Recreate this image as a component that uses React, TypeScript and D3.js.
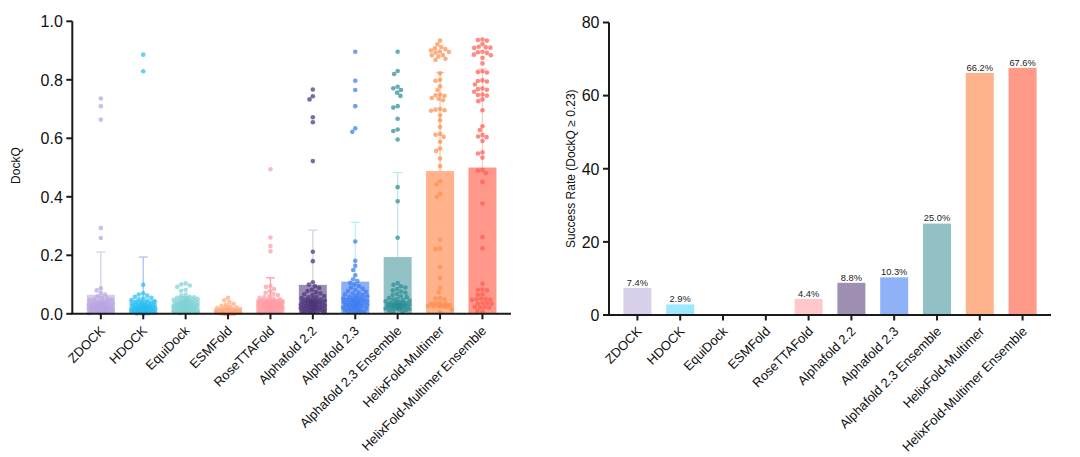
import React, { useMemo } from 'react';
import * as d3 from 'd3';

// ---------- DATA ----------
const categories = [
  'ZDOCK', 'HDOCK', 'EquiDock', 'ESMFold', 'RoseTTAFold',
  'Alphafold 2.2', 'Alphafold 2.3', 'Alphafold 2.3 Ensemble',
  'HelixFold-Multimer', 'HelixFold-Multimer Ensemble',
];

const zdockDockQ = [0.736, 0.710, 0.664, 0.293, 0.259, 0.087, 0.080, 0.071, 0.066, 0.060, 0.055, 0.052, 0.050, 0.048, 0.046, 0.044, 0.043, 0.041, 0.040, 0.039, 0.038, 0.036, 0.035, 0.034, 0.033, 0.032, 0.031, 0.030, 0.029, 0.028, 0.028, 0.027, 0.026, 0.025, 0.025, 0.024, 0.023, 0.022, 0.021, 0.020, 0.020, 0.019, 0.018, 0.017, 0.016, 0.015, 0.015, 0.014, 0.013, 0.012, 0.011, 0.010, 0.010, 0.009, 0.008, 0.008, 0.007, 0.006, 0.006, 0.005, 0.004, 0.004, 0.003, 0.002, 0.030, 0.022, 0.018, 0.012];
const hdockDockQ = [0.886, 0.829, 0.099, 0.070, 0.066, 0.062, 0.058, 0.055, 0.052, 0.050, 0.047, 0.045, 0.043, 0.041, 0.040, 0.038, 0.036, 0.035, 0.033, 0.032, 0.031, 0.030, 0.029, 0.028, 0.027, 0.026, 0.025, 0.024, 0.023, 0.022, 0.022, 0.021, 0.020, 0.019, 0.019, 0.018, 0.017, 0.016, 0.016, 0.015, 0.014, 0.014, 0.013, 0.012, 0.012, 0.011, 0.010, 0.010, 0.009, 0.009, 0.008, 0.008, 0.007, 0.007, 0.006, 0.006, 0.005, 0.005, 0.004, 0.004, 0.003, 0.003, 0.002, 0.002, 0.001, 0.001, 0.020, 0.015];
const equidockDockQ = [0.104, 0.100, 0.097, 0.092, 0.082, 0.079, 0.066, 0.062, 0.058, 0.056, 0.055, 0.054, 0.053, 0.052, 0.051, 0.050, 0.048, 0.047, 0.046, 0.045, 0.044, 0.043, 0.042, 0.041, 0.040, 0.040, 0.039, 0.038, 0.037, 0.036, 0.036, 0.035, 0.034, 0.033, 0.033, 0.032, 0.031, 0.030, 0.030, 0.029, 0.028, 0.027, 0.026, 0.025, 0.025, 0.024, 0.023, 0.022, 0.021, 0.020, 0.019, 0.018, 0.017, 0.016, 0.015, 0.014, 0.013, 0.012, 0.011, 0.010, 0.009, 0.008, 0.007, 0.006, 0.005, 0.004, 0.003, 0.002];
const esmfoldDockQ = [0.055, 0.046, 0.040, 0.034, 0.030, 0.027, 0.024, 0.022, 0.020, 0.019, 0.018, 0.017, 0.016, 0.015, 0.014, 0.013, 0.012, 0.012, 0.011, 0.011, 0.010, 0.010, 0.010, 0.009, 0.009, 0.009, 0.008, 0.008, 0.008, 0.008, 0.007, 0.007, 0.007, 0.007, 0.006, 0.006, 0.006, 0.006, 0.006, 0.005, 0.005, 0.005, 0.005, 0.005, 0.004, 0.004, 0.004, 0.004, 0.004, 0.003, 0.003, 0.003, 0.003, 0.003, 0.002, 0.002, 0.002, 0.002, 0.002, 0.001, 0.001, 0.001, 0.001, 0.001, 0.001, 0.000, 0.000, 0.000];
const rosettafoldDockQ = [0.494, 0.261, 0.232, 0.214, 0.095, 0.092, 0.085, 0.078, 0.072, 0.068, 0.064, 0.060, 0.057, 0.055, 0.052, 0.050, 0.048, 0.046, 0.045, 0.044, 0.042, 0.041, 0.040, 0.039, 0.038, 0.037, 0.036, 0.035, 0.034, 0.033, 0.032, 0.031, 0.030, 0.030, 0.029, 0.028, 0.027, 0.026, 0.025, 0.024, 0.023, 0.022, 0.021, 0.020, 0.019, 0.018, 0.017, 0.016, 0.015, 0.014, 0.013, 0.012, 0.011, 0.010, 0.009, 0.008, 0.007, 0.006, 0.005, 0.004, 0.003, 0.002, 0.040, 0.035, 0.030, 0.025, 0.020, 0.015];
const af22DockQ = [0.767, 0.744, 0.733, 0.672, 0.655, 0.522, 0.212, 0.180, 0.108, 0.100, 0.094, 0.088, 0.082, 0.078, 0.074, 0.070, 0.067, 0.064, 0.061, 0.058, 0.056, 0.054, 0.052, 0.050, 0.049, 0.047, 0.046, 0.045, 0.044, 0.043, 0.042, 0.041, 0.040, 0.039, 0.038, 0.037, 0.036, 0.035, 0.034, 0.033, 0.032, 0.031, 0.030, 0.029, 0.028, 0.027, 0.026, 0.025, 0.024, 0.023, 0.022, 0.021, 0.020, 0.019, 0.018, 0.017, 0.016, 0.015, 0.014, 0.013, 0.012, 0.011, 0.010, 0.009, 0.008, 0.007, 0.006, 0.005];
const af23DockQ = [0.896, 0.797, 0.765, 0.710, 0.634, 0.622, 0.247, 0.181, 0.164, 0.150, 0.132, 0.118, 0.112, 0.106, 0.100, 0.095, 0.090, 0.086, 0.082, 0.078, 0.075, 0.072, 0.069, 0.066, 0.064, 0.062, 0.060, 0.058, 0.056, 0.054, 0.052, 0.051, 0.050, 0.048, 0.047, 0.046, 0.045, 0.044, 0.042, 0.041, 0.040, 0.038, 0.037, 0.036, 0.035, 0.034, 0.032, 0.031, 0.030, 0.029, 0.028, 0.026, 0.025, 0.024, 0.022, 0.021, 0.020, 0.018, 0.017, 0.016, 0.014, 0.013, 0.012, 0.010, 0.009, 0.008, 0.006, 0.005];
const af23EnsDockQ = [0.896, 0.830, 0.820, 0.776, 0.771, 0.765, 0.756, 0.745, 0.710, 0.705, 0.667, 0.630, 0.625, 0.596, 0.433, 0.385, 0.260, 0.105, 0.099, 0.094, 0.090, 0.085, 0.080, 0.076, 0.072, 0.068, 0.064, 0.060, 0.057, 0.054, 0.051, 0.049, 0.047, 0.045, 0.043, 0.041, 0.039, 0.038, 0.037, 0.036, 0.035, 0.034, 0.033, 0.032, 0.031, 0.030, 0.030, 0.029, 0.028, 0.028, 0.027, 0.026, 0.025, 0.025, 0.024, 0.023, 0.022, 0.021, 0.020, 0.019, 0.018, 0.017, 0.016, 0.015, 0.013, 0.011, 0.009, 0.007];
const hfmDockQ = [0.934, 0.921, 0.912, 0.908, 0.900, 0.897, 0.895, 0.893, 0.885, 0.884, 0.872, 0.868, 0.822, 0.800, 0.797, 0.778, 0.765, 0.750, 0.747, 0.738, 0.735, 0.730, 0.698, 0.696, 0.694, 0.679, 0.662, 0.639, 0.615, 0.612, 0.605, 0.588, 0.565, 0.557, 0.531, 0.505, 0.453, 0.443, 0.411, 0.400, 0.253, 0.880, 0.905, 0.745, 0.700, 0.223, 0.221, 0.160, 0.122, 0.089, 0.074, 0.054, 0.052, 0.050, 0.038, 0.036, 0.035, 0.034, 0.030, 0.029, 0.028, 0.027, 0.027, 0.026, 0.025, 0.024, 0.015, 0.005];
const hfmEnsDockQ = [0.938, 0.936, 0.934, 0.922, 0.913, 0.911, 0.910, 0.909, 0.896, 0.894, 0.892, 0.886, 0.884, 0.875, 0.856, 0.829, 0.827, 0.825, 0.798, 0.796, 0.794, 0.784, 0.770, 0.768, 0.766, 0.759, 0.750, 0.748, 0.746, 0.733, 0.727, 0.696, 0.641, 0.628, 0.611, 0.606, 0.604, 0.591, 0.552, 0.548, 0.534, 0.492, 0.490, 0.481, 0.451, 0.377, 0.262, 0.224, 0.103, 0.083, 0.082, 0.080, 0.067, 0.065, 0.052, 0.051, 0.050, 0.049, 0.048, 0.037, 0.036, 0.035, 0.034, 0.024, 0.023, 0.022, 0.021, 0.009, 0.008];

const dockqByMethod = [
  zdockDockQ, hdockDockQ, equidockDockQ, esmfoldDockQ, rosettafoldDockQ,
  af22DockQ, af23DockQ, af23EnsDockQ, hfmDockQ, hfmEnsDockQ,
];

const meanDockQ = [0.065, 0.048, 0.034, 0.017, 0.051, 0.099, 0.110, 0.194, 0.488, 0.500];
const sdDockQ = [0.146, 0.146, 0.025, 0.012, 0.072, 0.187, 0.203, 0.289, 0.337, 0.337];

const successRate = [7.4, 2.9, 0, 0, 4.4, 8.8, 10.3, 25.0, 66.2, 67.6];

const dockqTicks = [0, 0.2, 0.4, 0.6, 0.8, 1.0];
const rateTicks = [0, 20, 40, 60, 80];

// ---------- STYLES ----------
const barFill = ['#d6cbec', '#a5e5fb', '#a8e0e0', '#ffc6a8', '#ffc2c6', '#9b8cb4', '#8cb0f6', '#93c2c6', '#ffb28b', '#ff978a'];
const dotFill = ['#b8a5e1', '#27bdf1', '#7fd3d4', '#ffab80', '#ff9ca3', '#4b3479', '#3b7bf0', '#2a8d95', '#ff8d4c', '#ff5d51'];
const errStroke = ['#d8d0ea', '#a9c4f2', '#b5e6e6', '#ffcfb5', '#ff9ca3', '#d8d2e8', '#bfeefa', '#bde8ef', '#ffc6a8', '#ffc9c9'];
const rateFill = ['#d9d0ec', '#9ee8fc', '#a8e0e0', '#ffc3a2', '#ffc8cb', '#9f90b3', '#8fb1f7', '#92c1c5', '#ffb38d', '#ff9a88'];

const FONT = '"Liberation Sans", Arial, Helvetica, sans-serif';

// greedy beeswarm restricted to |x| <= maxHalf; when no free slot exists, a
// position balancing clearance and closeness to the centre is used (dots overlap).
function swarm(ys: number[], D: number, maxHalf: number): number[] {
  const order = ys.map((_, i) => i).sort((a, b) => ys[a] - ys[b]);
  const placed: { x: number; y: number }[] = [];
  const xs = new Array(ys.length).fill(0);
  const grid: number[] = [];
  for (let g = -maxHalf; g <= maxHalf + 1e-9; g += 0.5) grid.push(g);
  for (const i of order) {
    const y = ys[i];
    const near = placed.filter((p) => Math.abs(p.y - y) < D);
    const intervals: [number, number][] = near.map((p) => {
      const dy = Math.abs(p.y - y);
      const dx = Math.sqrt(D * D - dy * dy);
      return [p.x - dx, p.x + dx];
    });
    const cands = [0];
    intervals.forEach(([a, b]) => cands.push(a, b));
    cands.sort((a, b) => Math.abs(a) - Math.abs(b) || a - b);
    let x: number | null = null;
    for (const c of cands) {
      if (Math.abs(c) > maxHalf) continue;
      if (intervals.every(([a, b]) => c <= a + 1e-6 || c >= b - 1e-6)) { x = c; break; }
    }
    if (x === null) {
      let best = 0, bestScore = -Infinity;
      for (const g of grid) {
        let minD = Infinity;
        for (const p of near) minD = Math.min(minD, Math.hypot(p.x - g, p.y - y));
        const score = Math.min(minD, D) - Math.abs(g) * 0.12;
        if (score > bestScore) { bestScore = score; best = g; }
      }
      x = best;
    }
    xs[i] = x;
    placed.push({ x, y });
  }
  return xs;
}

export default function App() {
  const L = { x0: 72.3, x1: 511, yTop: 21.3, yBot: 313.8 };
  const xL = d3.scalePoint<string>().domain(categories).range([L.x0, L.x1]).padding(0.673);
  const yL = d3.scaleLinear().domain([0, 1]).range([L.yBot, L.yTop]);
  const R = { x0: 609, x1: 1051, yTop: 22.5, yBot: 315 };
  const xR = d3.scalePoint<string>().domain(categories).range([R.x0, R.x1]).padding(0.664);
  const yR = d3.scaleLinear().domain([0, 80]).range([R.yBot, R.yTop]);

  const barW = 28;
  const dotR = 2.3;

  const swarms = useMemo(
    () => dockqByMethod.map((vals) => swarm(vals.map((v) => yL(v)), 4.6, 12)),
    []
  );

  const axisStroke = '#1a1a1a';
  const catFont = 13;

  return (
    <div style={{ position: 'absolute', left: 0, top: 0, background: '#fff' }}>
      <svg width={1080} height={457} style={{ display: 'block', fontFamily: FONT }}>
        <rect x={0} y={0} width={1080} height={457} fill="#fff" />

        {/* ===== LEFT PANEL ===== */}
        {categories.map((c, i) => {
          const cx = xL(c)!;
          const m = meanDockQ[i];
          const top = m + sdDockQ[i];
          return (
            <g key={'lb' + i}>
              <rect x={cx - barW / 2} y={yL(m)} width={barW} height={yL(0) - yL(m)} fill={barFill[i]} />
              <line x1={cx} x2={cx} y1={yL(m)} y2={yL(top)} stroke={errStroke[i]} strokeWidth={1.3} />
              <line x1={cx - 4.5} x2={cx + 4.5} y1={yL(top)} y2={yL(top)} stroke={errStroke[i]} strokeWidth={1.3} />
            </g>
          );
        })}
        {categories.map((c, i) => {
          const cx = xL(c)!;
          return (
            <g key={'ld' + i}>
              {dockqByMethod[i].map((v, j) => (
                <circle key={j} cx={cx + swarms[i][j]} cy={yL(v)} r={dotR} fill={dotFill[i]} fillOpacity={0.72} />
              ))}
            </g>
          );
        })}
        <line x1={L.x0} x2={L.x0} y1={L.yTop} y2={L.yBot} stroke={axisStroke} strokeWidth={2} />
        <line x1={L.x0 - 1} x2={L.x1} y1={L.yBot} y2={L.yBot} stroke={axisStroke} strokeWidth={2} />
        {dockqTicks.map((t) => (
          <g key={'lt' + t}>
            <line x1={L.x0 - 6} x2={L.x0} y1={yL(t)} y2={yL(t)} stroke={axisStroke} strokeWidth={2} />
            <text x={L.x0 - 9.5} y={yL(t)} dy="0.36em" textAnchor="end" fontSize={16} fill="#111">{t.toFixed(1)}</text>
          </g>
        ))}
        {categories.map((c) => {
          const cx = xL(c)!;
          return (
            <g key={'lx' + c}>
              <line x1={cx} x2={cx} y1={L.yBot} y2={L.yBot + 5.5} stroke={axisStroke} strokeWidth={2} />
              <text transform={`translate(${cx + 1.5},${L.yBot + 14.5}) rotate(-45)`} dy="0.35em" textAnchor="end" fontSize={catFont} fill="#111">{c}</text>
            </g>
          );
        })}
        <text transform={`translate(16,${(L.yTop + L.yBot) / 2 - 2}) rotate(-90)`} dy="0.35em" textAnchor="middle" fontSize={12} fill="#111">DockQ</text>

        {/* ===== RIGHT PANEL ===== */}
        {categories.map((c, i) => {
          const v = successRate[i];
          const cx = xR(c)!;
          if (v <= 0) return null;
          return (
            <g key={'rb' + i}>
              <rect x={cx - barW / 2} y={yR(v)} width={barW} height={yR(0) - yR(v)} fill={rateFill[i]} />
              <text x={cx} y={yR(v) - 2.2} textAnchor="middle" fontSize={9.3} fill="#222">{v.toFixed(1)}%</text>
            </g>
          );
        })}
        <line x1={R.x0} x2={R.x0} y1={R.yTop} y2={R.yBot} stroke={axisStroke} strokeWidth={2} />
        <line x1={R.x0 - 1} x2={R.x1} y1={R.yBot} y2={R.yBot} stroke={axisStroke} strokeWidth={2} />
        {rateTicks.map((t) => (
          <g key={'rt' + t}>
            <line x1={R.x0 - 6} x2={R.x0} y1={yR(t)} y2={yR(t)} stroke={axisStroke} strokeWidth={2} />
            <text x={R.x0 - 9.5} y={yR(t)} dy="0.36em" textAnchor="end" fontSize={16} fill="#111">{t}</text>
          </g>
        ))}
        {categories.map((c) => {
          const cx = xR(c)!;
          return (
            <g key={'rx' + c}>
              <line x1={cx} x2={cx} y1={R.yBot} y2={R.yBot + 5.5} stroke={axisStroke} strokeWidth={2} />
              <text transform={`translate(${cx + 2},${R.yBot + 14}) rotate(-45)`} dy="0.35em" textAnchor="end" fontSize={catFont} fill="#111">{c}</text>
            </g>
          );
        })}
        <text transform={`translate(571,${(R.yTop + R.yBot) / 2}) rotate(-90)`} dy="0.35em" textAnchor="middle" fontSize={12} fill="#111">Success Rate (DockQ ≥ 0.23)</text>
      </svg>
    </div>
  );
}
